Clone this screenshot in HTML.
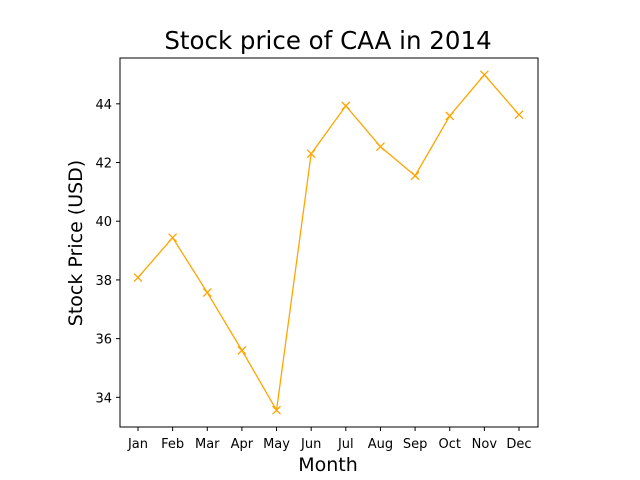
<!DOCTYPE html>
<html><head><meta charset="utf-8"><style>body{margin:0;background:#fff}svg{display:block;font-family:"DejaVu Sans","Liberation Sans",sans-serif}</style></head>
<body>
<svg id="c" width="640" height="480">
<rect x="0" y="0" width="640" height="480" fill="#fff"/>
<text x="328" y="49" text-anchor="middle" font-size="24.5">Stock price of CAA in 2014</text>
<text x="328" y="471" text-anchor="middle" font-size="19">Month</text>
<text transform="translate(82,243) rotate(-90)" text-anchor="middle" font-size="19">Stock Price (USD)</text>
<g id="plot"></g>
<rect x="120" y="58" width="418" height="369" fill="none" stroke="#000" stroke-width="1"/>
</svg>
<script>
const months=["Jan","Feb","Mar","Apr","May","Jun","Jul","Aug","Sep","Oct","Nov","Dec"];
const prices=[38.08,39.44,37.57,35.6,33.56,42.3,43.93,42.54,41.55,43.59,44.99,43.63];
const yTicks=[34,36,38,40,42,44];
const L=120,R=538,T=58,B=427;
const ymin=Math.min(...prices),ymax=Math.max(...prices),m=(ymax-ymin)*0.05;
const y0=ymin-m,y1=ymax+m;
const xs=i=>138+(519-138)*i/(months.length-1);
const ys=v=>B-(v-y0)/(y1-y0)*(B-T);
const g=document.getElementById('plot');
const NS="http://www.w3.org/2000/svg";
function mk(t,a){const e=document.createElementNS(NS,t);for(const k in a)e.setAttribute(k,a[k]);g.appendChild(e);return e;}
months.forEach((mo,i)=>{const x=xs(i);
const tk=mk('line',{x1:x,x2:x,y1:B,y2:B+4,stroke:'#000'});


const t=mk('text',{x:x,y:B+21,'text-anchor':'middle','font-size':'13'});t.textContent=mo;

});
yTicks.forEach(v=>{const y=ys(v);
const tk=mk('line',{x1:L-4,x2:L,y1:y,y2:y,stroke:'#000'});


const t=mk('text',{x:L-8,y:y+5,'text-anchor':'end','font-size':'13'});t.textContent=v;

});
const pl=mk('polyline',{points:prices.map((v,i)=>xs(i)+','+ys(v)).join(' '),fill:'none',stroke:'#ffa500','stroke-width':1.3});


prices.forEach((v,i)=>{const x=xs(i),y=ys(v),s=4;
const p=mk('path',{d:`M${x-s},${y-s}L${x+s},${y+s}M${x-s},${y+s}L${x+s},${y-s}`,stroke:'#ffa500','stroke-width':1.3,fill:'none'});

});
</script>
</body></html>
